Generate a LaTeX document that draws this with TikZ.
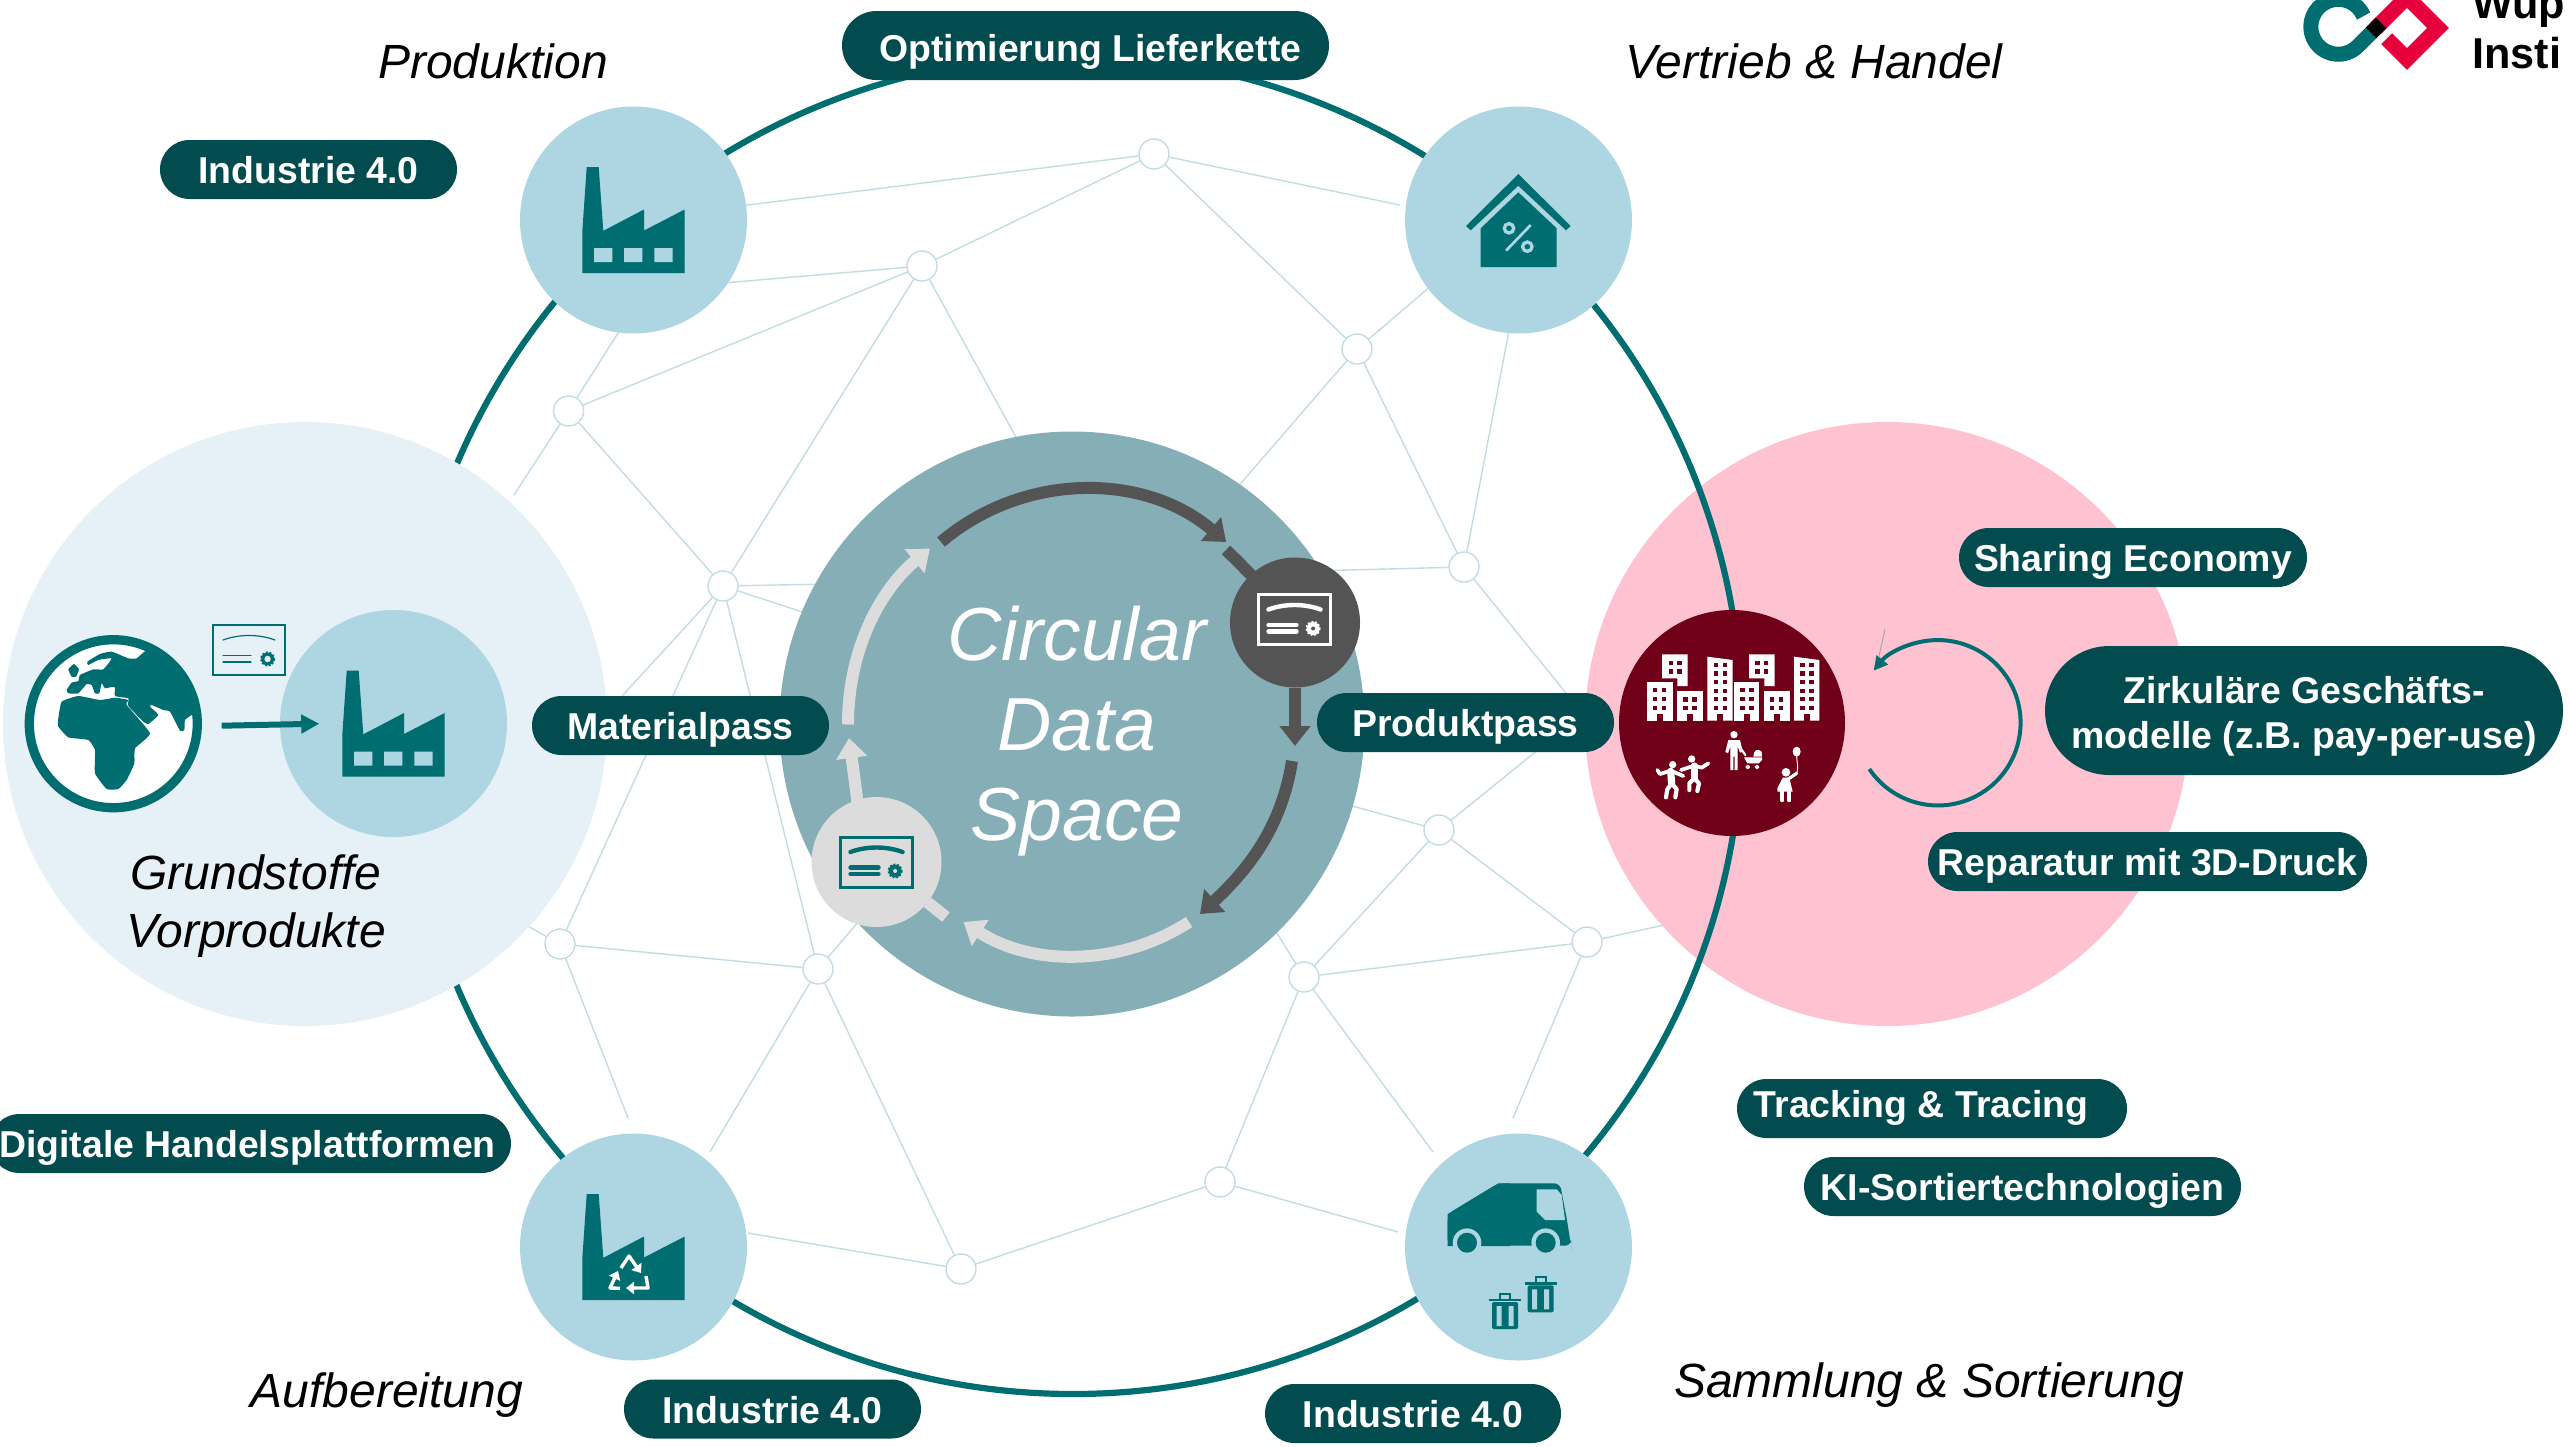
\documentclass[tikz,border=0pt]{standalone}
\usepackage{fontspec}
\setmainfont{Liberation Sans}
\usetikzlibrary{arrows.meta,shapes.misc}
\definecolor{tealc}{HTML}{006E70}
\definecolor{pillc}{HTML}{024C50}
\definecolor{bluec}{HTML}{AED5E2}
\definecolor{palec}{HTML}{E5F1F6}
\definecolor{pinkc}{HTML}{FFC2D1}
\definecolor{cityc}{HTML}{6F0018}
\definecolor{corec}{HTML}{85AEB6}
\definecolor{netc}{HTML}{C3DCE1}
\definecolor{darkg}{HTML}{545454}
\definecolor{lightg}{HTML}{DCDCDC}
\definecolor{logor}{HTML}{E6003C}
\tikzset{
  disc/.style={circle,inner sep=0pt,outer sep=0pt},
  bigblue/.style={disc,fill=bluec,minimum size=113.5pt},
  netnode/.style={circle,inner sep=0pt,fill=white,draw=netc,line width=.7pt,minimum size=15pt},
  netline/.style={draw=netc,line width=.7pt},
  ringline/.style={draw=tealc,line width=3.1pt},
  darrow/.style={draw=darkg,line width=6pt,-{Triangle[width=15pt,length=10pt]}},
  larrow/.style={draw=lightg,line width=6pt,-{Triangle[width=15pt,length=10pt]}},
  pillbase/.style={rounded rectangle,fill=pillc,text=white,inner sep=0pt,outer sep=0pt,font=\fontsize{18.7}{22.5}\selectfont\bfseries},
  pill/.style={pillbase,text height=14pt,text depth=0pt,minimum height=29.5pt},
  lab/.style={inner sep=0pt,anchor=base,font=\fontsize{24}{28.7}\selectfont\itshape},
  logotxt/.style={inner sep=0pt,anchor=base west,font=\fontsize{21.6}{26}\selectfont\bfseries}
}
\newcommand\certicon[7]{%
 \begin{scope}[shift={(#1,#2)}]
  \draw[draw=#3,fill=#4,line width=#5] (-36,-25) rectangle (36,25);
  \draw[draw=#3,line width=#6,line cap=round] (-26,-10) .. controls (-10,-16) and (10,-16) .. (26,-10);
  \draw[draw=#3,line width=#6,line cap=round] (-26,5.5) -- (2,5.5) (-26,12) -- (2,12);
  \fill[#3] (18.6,9) circle[radius=6.5pt];
  \draw[draw=#3,line width=1pt,dash pattern=on .9pt off .9pt] (18.6,9) circle[radius=6.5pt];
  \fill[#4] (18.6,9) circle[radius=#7];
 \end{scope}}
\newcommand\factoryshape[2]{%
  \fill[tealc,shift={(#1,#2)}] (-51.2,53.2) -- (-51.2,11.5) -- (-46.8,-52.8) -- (-34.8,-52.8) -- (-30.2,10.8) -- (10.5,-10.5) -- (10.5,10.5) -- (51.2,-10.5) -- (51.2,53.2) -- cycle;}
\newcommand\factorywin[2]{%
  \fill[bluec,shift={(#1,#2)}] (-39.5,28.2) rectangle (-21.2,42.2) (-9.5,28.2) rectangle (8.8,42.2) (20.8,28.2) rectangle (39.2,42.2);}
\newcommand\trashcan[2]{%
 \begin{scope}[shift={(#1,#2)}]
  \draw[tealc,line width=1pt] (-5,0) -- (-5,-6) -- (5,-6) -- (5,0);
  \draw[tealc,line width=1.4pt] (-16,0) -- (16,0);
  \fill[tealc,rounded corners=1pt] (-13,2) rectangle (13,29);
  \fill[bluec] (-8.5,6) rectangle (-3.5,26) (3.5,6) rectangle (8.5,26);
 \end{scope}}
\newcommand\bldg[5]{%
  \fill[white] (#1,362) -- (#1,#3) -- (#2,#4) -- (#2,362) -- cycle;
  \wins{#1+25,#1+52}{#5}%
  \fill[cityc] ({(#1+#2)/2-9},342) rectangle ({(#1+#2)/2+9},362.5);}
\newcommand\wins[2]{%
  \foreach \cc in {#1}{\foreach \rr in {#2}{\fill[cityc] ({\cc-6.5},{\rr-6.5}) rectangle ++(13,13);}}}
\begin{document}
\begin{tikzpicture}[x=1pt,y=1pt,xscale=.5,yscale=-.5]
\useasboundingbox (0,0) rectangle (2569,1446);
\fill[white] (0,0) rectangle (2569,1446);
% right backdrop
\node[disc,fill=pinkc,minimum size=302pt] (pinkdisc) at (1887,724) {};
% network
\node[netnode] (na) at (1154,154) {};
\node[netnode] (nb) at (922,266) {};
\node[netnode] (nc) at (568.6,411) {};
\node[netnode] (nd) at (723,586) {};
\node[netnode] (ne) at (1357,349) {};
\node[netnode] (nf) at (1464,567) {};
\node[netnode] (ng) at (1439,830) {};
\node[netnode] (nh) at (1587,942) {};
\node[netnode] (ni) at (1304,977) {};
\node[netnode] (nj) at (818,969) {};
\node[netnode] (nk) at (560,944) {};
\node[netnode] (nl) at (1220,1182) {};
\node[netnode] (nm) at (961,1269) {};
\coordinate (ap) at (740,206);
\coordinate (av) at (1400,205);
\coordinate (pb) at (700,285);
\coordinate (bc) at (1023,450);
\coordinate (cp) at (625,322);
\coordinate (cl) at (514,495);
\coordinate (ev) at (1438,280);
\coordinate (ec) at (1229,497);
\coordinate (fv) at (1511,320);
\coordinate (fc) at (1310,571);
\coordinate (fd) at (1574,703);
\coordinate (dl) at (600,720);
\coordinate (dca) at (830,584);
\coordinate (dcb) at (830,621);
\coordinate (kl) at (515,919);
\coordinate (kr) at (628,1118);
\coordinate (jg) at (870,908);
\coordinate (jr) at (710,1152);
\coordinate (mr) at (748,1233);
\coordinate (lt) at (1398,1232);
\coordinate (ic) at (1272,925);
\coordinate (it) at (1433,1152);
\coordinate (gc) at (1345,804);
\coordinate (gu) at (1550,740);
\coordinate (ht) at (1513,1118);
\coordinate (hp) at (1664,925);
\draw[netline] (na) -- (ap) (na) -- (av) (na) -- (nb) (na) -- (ne)
 (nb) -- (pb) (nb) -- (nc) (nb) -- (nd) (nb) -- (bc)
 (nc) -- (cp) (nc) -- (nd) (nc) -- (cl)
 (ne) -- (ev) (ne) -- (nf) (ne) -- (ec)
 (nf) -- (fv) (nf) -- (fc) (nf) -- (fd)
 (nd) -- (nk) (nd) -- (dl) (nd) -- (nj) (nd) -- (dca) (nd) -- (dcb)
 (nk) -- (kl) (nk) -- (nj) (nk) -- (kr)
 (nj) -- (jg) (nj) -- (jr) (nj) -- (nm)
 (nm) -- (mr) (nm) -- (nl)
 (nl) -- (lt) (nl) -- (ni)
 (ni) -- (ic) (ni) -- (ng) (ni) -- (nh) (ni) -- (it)
 (ng) -- (gc) (ng) -- (nh) (ng) -- (gu)
 (nh) -- (ht) (nh) -- (hp);
% ring
\draw[ringline] (1073,725) circle[radius=669pt];
% left backdrop
\node[disc,fill=palec,minimum size=302pt] (palepane) at (305,724) {};
% core
\node[disc,fill=corec,minimum size=292.5pt] (core) at (1072,724) {};
\node[disc,fill=darkg,minimum size=65pt] (dc) at (1295,622.5) {};
\node[disc,fill=lightg,minimum size=65pt] (lc) at (876.5,862) {};
\coordinate (a1) at (941,542);
\coordinate (a2) at (1226,550);
\coordinate (a3t) at (1295,746);
\coordinate (a4) at (1292,761);
\coordinate (a4t) at (1200,914);
\coordinate (a5) at (1189,922);
\coordinate (a6) at (946,917);
\coordinate (a7t) at (849,738);
\coordinate (a8) at (848,724.5);
\coordinate (a8t) at (930,548.5);
\draw[darrow] (a1) arc[start angle=-130.4,end angle=-49.6,radius=220pt];
\draw[draw=darkg,line width=6pt] (a2) .. controls (1245,568) and (1265,590) .. (dc);
\draw[darrow] (dc) -- (a3t);
\draw[darrow] (a4) .. controls (1282,825) and (1250,868) .. (a4t);
\draw[larrow] (a5) arc[start angle=57,end angle=123,radius=207pt];
\draw[draw=lightg,line width=6pt] (a6) -- (lc);
\draw[larrow] (lc) .. controls (858,805) .. (a7t);
\draw[larrow] (a8) .. controls (848,650) and (880,590) .. (a8t);
\certicon{1294.5}{619.5}{white}{darkg}{1.5pt}{2.2pt}{2pt}
\certicon{876.5}{862}{tealc}{lightg}{1.5pt}{2.2pt}{2pt}
\node[align=center,inner sep=0pt,text=white,font=\fontsize{37.6}{45}\selectfont\itshape] (cds) at (1077,731.5) {Circular\\Data\\Space};
% stage nodes
\node[bigblue] (prod) at (633.5,220) {};
\factoryshape{633.5}{220}\factorywin{633.5}{220}
\node[bigblue] (vert) at (1518.5,220) {};
\fill[tealc] (1518.3,174) -- (1570.7,226) -- (1566,230.3) -- (1518.3,185.7) -- (1470.7,230.3) -- (1466,226) -- cycle;
\fill[tealc] (1518.3,192.3) -- (1556.7,228.3) -- (1556.7,267) -- (1480.7,267) -- (1480.7,228.3) -- cycle;
\draw[bluec,line width=1.65pt] (1509,228.3) circle[radius=4.7pt] (1527.3,246.7) circle[radius=4.7pt];
\draw[bluec,line width=1.35pt] (1506,250.7) -- (1530.7,225);
\node[bigblue] (recy) at (633.5,1247) {};
\factoryshape{633.5}{1247}
\begin{scope}[white,line width=1.7pt,line join=round,-{Triangle[width=6pt,length=4pt]}]
\draw (621,1268) -- (629,1256) -- (641,1273);
\draw (646,1276) -- (648,1288) -- (626,1288);
\draw (620,1288.3) -- (610,1288) -- (618,1271);
\end{scope}
\node[bigblue] (truck) at (1518.5,1247) {};
\fill[tealc,rounded corners=3pt] (1447.7,1214) -- (1498.3,1183.3) -- (1560,1183.3) -- (1567,1220) -- (1571,1246) -- (1571,1245.7) -- (1571,1245.7) -- (1447.7,1245.7) -- cycle;
\fill[tealc] (1447.7,1214) -- (1498.3,1183.3) -- (1510,1183.3) -- (1510,1246) -- (1447.7,1246) -- cycle;
\fill[bluec] (1536.7,1189.3) -- (1556.7,1189.3) -- (1561.7,1195) -- (1565,1220) -- (1545,1220) -- (1536.7,1211.7) -- cycle;
\fill[bluec] (1467,1242.7) circle[radius=14.3pt] (1545.7,1242.7) circle[radius=14.3pt];
\fill[tealc] (1467,1242.7) circle[radius=10pt] (1545.7,1242.7) circle[radius=10pt];
\trashcan{1505}{1300}
\trashcan{1540.7}{1283.3}
% raw materials
\node[bigblue] (raw) at (393.5,723.5) {};
\factoryshape{393.5}{723.5}\factorywin{393.5}{723.5}
\node[circle,inner sep=0pt,fill=white,draw=tealc,line width=4.65pt,minimum size=84pt] (globe) at (113.3,723.7) {};
\begin{scope}[shift={(0,580)},scale=1/3]
\fill[tealc] plot[smooth cycle,tension=.25] coordinates {(262,245) (300,222) (335,215) (385,235) (410,235) (437,213) (480,222) (560,300) (592,400) (575,405) (555,420) (553,450) (540,452) (510,395) (490,390) (455,375) (450,380) (475,405) (445,432) (430,425) (385,378) (385,355) (345,348) (345,322) (330,322) (315,325) (305,310) (298,340) (285,340) (275,315) (260,312) (235,340) (205,340) (200,330) (215,308) (235,303) (240,285) (280,268) (310,268) (335,235) (295,240) (265,255)};
\fill[tealc] plot[smooth cycle,tension=.25] coordinates {(175,415) (185,365) (235,348) (300,360) (345,353) (385,360) (380,375) (450,460) (405,505) (403,550) (380,600) (355,627) (320,627) (285,580) (285,510) (265,480) (205,472) (175,440)};
\fill[tealc] plot[smooth cycle,tension=.25] coordinates {(205,268) (222,252) (237,268) (228,290) (215,290)};
\end{scope}
\certicon{249}{650}{tealc}{palec}{.7pt}{.6pt}{3.2pt}
\coordinate (gs) at (221.7,725.7);
\coordinate (ge) at (319.3,723.7);
\draw[draw=tealc,line width=3pt,-{Triangle[width=9pt,length=9pt]}] (gs) -- (ge);
% city
\node[disc,fill=cityc,minimum size=113pt] (city) at (1732,723) {};
\begin{scope}[shift={(1600,600)},scale=1/3]
\bldg{140}{218}{247}{247}{270,296,323}
\bldg{231}{308}{272}{272}{298,323}
\bldg{322}{398}{170}{180}{195,220,246,272,297,323}
\bldg{402}{478}{247}{247}{270,296,323}
\bldg{491}{569}{272}{272}{298,323}
\bldg{582}{658}{170}{180}{195,220,246,272,297,323}
\fill[white] (186,163) -- (263,163) -- (263,258) -- (232,258) -- (232,235) -- (186,235) -- cycle;
\wins{212,238}{188,214}
\fill[white] (447,163) -- (524,163) -- (524,258) -- (493,258) -- (493,235) -- (447,235) -- cycle;
\wins{472,498}{188,214}
\begin{scope}[white,draw=white,line cap=round,line join=round]
% father and pram
\fill (402,404) circle[radius=11pt];
\fill (385,420) -- (420,420) -- (428,455) -- (420,458) -- (413,440) -- (413,510) -- (404,510) -- (404,470) -- (400,470) -- (400,510) -- (391,510) -- (391,440) -- (384,460) -- (376,456) -- cycle;
\draw[line width=1.1pt] (422,445) -- (436,465);
\fill (432,472) -- (486,472) -- (486,480) -- (476,490) -- (442,490) -- cycle;
\fill (460,470) .. controls (460,452) and (472,442) .. (485,455) -- (486,470) -- cycle;
\draw[line width=.7pt] (443,501) circle[radius=5pt] (471,501) circle[radius=5pt];
% dancers
\fill (218,494) circle[radius=11pt] (275,477) circle[radius=11pt];
\draw[line width=3.6pt] (212,514) -- (215,550);
\draw[line width=1.9pt] (172,510) -- (180,522) -- (212,512) -- (250,528);
\draw[line width=2.1pt] (215,550) -- (202,568) -- (198,592) (215,550) -- (230,568) -- (226,592);
\draw[line width=3.6pt] (283,498) -- (283,533);
\draw[line width=1.9pt] (243,510) -- (283,497) -- (305,503) -- (325,490);
\draw[line width=2.1pt] (283,535) -- (268,550) -- (268,570) (283,535) -- (297,550) -- (292,573);
% child
\fill (558,517) circle[radius=13pt];
\fill (548,533) -- (568,533) -- (578,575) -- (532,575) -- cycle;
\draw[line width=1.6pt] (565,537) -- (590,520) (550,540) -- (536,568);
\draw[line width=1.9pt] (547,575) -- (547,601) (568,575) -- (568,601);
\draw[line width=.5pt] (590,520) .. controls (597,500) and (590,485) .. (590,470);
\fill (590,455) ellipse[x radius=12pt,y radius=15pt];
\end{scope}
\end{scope}
% loop arrow
\coordinate (lo) at (1869.3,769);
\draw[draw=tealc,line width=2pt,-{Triangle[width=7pt,length=7pt]}] (lo) arc[start angle=146,end angle=-141,radius=82.7pt];
\coordinate (st1) at (1885,629.3);
\coordinate (st2) at (1878.7,657.3);
\draw[draw=gray!70,line width=.5pt] (st1) -- (st2);
% logo
\draw[draw=tealc,line width=7.5pt] (2363.6,16) arc[start angle=-23,end angle=-315,radius=27.5pt] -- (2371,33);
\draw[draw=logor,line width=7.7pt,miter limit=10] (2376,28) -- (2407,-3) -- (2438,28) -- (2407,59) -- (2386.7,38.7);
\draw[draw=black,line width=7.5pt] (2371,33) -- (2381,23);
\node[logotxt] (lg1) at (2472,18) {Wup};
\node[logotxt] (lg2) at (2472,68) {Insti};
% labels
\node[lab] (lprod) at (493,78) {Produktion};
\node[lab] (lvert) at (1814,78) {Vertrieb \& Handel};
\node[lab] (lauf) at (387,1407) {Aufbereitung};
\node[lab] (lsam) at (1929,1397) {Sammlung \& Sortierung};
\node[lab] (lgru) at (256,889) {Grundstoffe};
\node[lab] (lvor) at (256,947) {Vorprodukte};
% pills
\node[pill,minimum width=243.5pt,minimum height=34.5pt,text height=15.6pt] (p1) at (1085.5,45.5) {\hspace*{5pt}Optimierung Lieferkette};
\node[pill,minimum width=148.5pt] (p2) at (308.5,169.5) {Industrie 4.0};
\node[pill,minimum width=148.5pt] (p3) at (680.5,725.5) {Materialpass};
\node[pill,minimum width=148.5pt] (p4) at (1465.5,722.5) {Produktpass};
\node[pill,minimum width=260.5pt] (p5) at (250.5,1143.5) {Digitale Handelsplattformen\hspace*{3pt}};
\node[pill,minimum width=148.5pt] (p6) at (772.5,1409) {Industrie 4.0};
\node[pill,minimum width=148pt] (p7) at (1413,1413.5) {Industrie 4.0};
\node[pill,minimum width=174pt] (p8) at (2133,557.5) {Sharing Economy};
\node[pillbase,minimum width=259pt,minimum height=64.5pt,align=center] (p9) at (2304,710.5) {\rule{0pt}{19pt}Zirkuläre Geschäfts-\\modelle (z.B. pay-per-use)};
\node[pill,minimum width=219.5pt] (p10) at (2147.5,861.5) {Reparatur mit 3D-Druck};
\node[pill,minimum width=195pt,text height=9pt] (p11) at (1932,1108.5) {Tracking \& Tracing\hspace*{11pt}};
\node[pill,minimum width=218.5pt] (p12) at (2022.5,1186.5) {KI-Sortiertechnologien};
\end{tikzpicture}
\end{document}
